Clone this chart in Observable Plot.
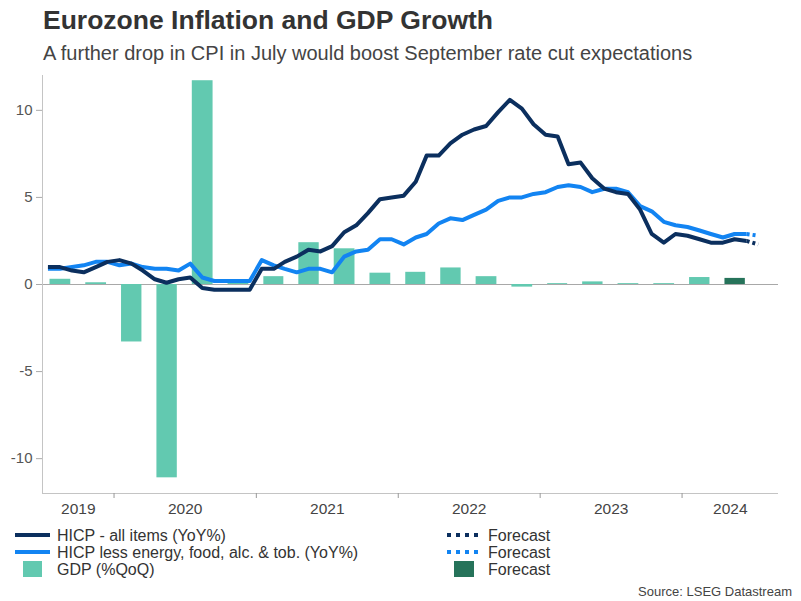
<!DOCTYPE html>
<html><head><meta charset="utf-8">
<script src="https://cdn.jsdelivr.net/npm/d3@7"></script>
<script src="https://cdn.jsdelivr.net/npm/@observablehq/plot@0.6"></script>
<style>
body{margin:0;background:#fff;font-family:"Liberation Sans",Arial,sans-serif;}
#wrap{position:relative;width:801px;height:601px;overflow:hidden;background:#fff;}
.title{position:absolute;left:43px;top:7px;font-size:26.5px;font-weight:bold;color:#333;line-height:26.5px;white-space:nowrap;}
.subtitle{position:absolute;left:43px;top:43px;font-size:20px;color:#444;line-height:20px;white-space:nowrap;}
#chart{position:absolute;left:0;top:65px;}
#legend{position:absolute;left:0;top:520px;}
</style></head>
<body><div id="wrap">
<div class="title">Eurozone Inflation and GDP Growth</div>
<div class="subtitle">A further drop in CPI in July would boost September rate cut expectations</div>
<div id="chart"></div>
<svg id="legend" width="801" height="81"></svg>
</div>
<script>
// ---- Data ----
const firstMonth = "2019-07"; // monthly series start (Jul 2019)
const hicpAll = [
  1.0, 1.0, 0.8, 0.7, 1.0, 1.3,
  1.4, 1.2, 0.8, 0.3, 0.1, 0.3, 0.4, -0.2, -0.3, -0.3, -0.3, -0.3,
  0.9, 0.9, 1.3, 1.6, 2.0, 1.9, 2.2, 3.0, 3.4, 4.1, 4.9, 5.0,
  5.1, 5.9, 7.4, 7.4, 8.1, 8.6, 8.9, 9.1, 9.9, 10.6, 10.1, 9.2,
  8.6, 8.5, 6.9, 7.0, 6.1, 5.5, 5.3, 5.2, 4.3, 2.9, 2.4, 2.9,
  2.8, 2.6, 2.4, 2.4, 2.6, 2.5
];
const hicpCore = [
  0.9, 0.9, 1.0, 1.1, 1.3, 1.3,
  1.1, 1.2, 1.0, 0.9, 0.9, 0.8, 1.2, 0.4, 0.2, 0.2, 0.2, 0.2,
  1.4, 1.1, 0.9, 0.7, 0.9, 0.9, 0.7, 1.6, 1.9, 2.0, 2.6, 2.6,
  2.3, 2.7, 2.9, 3.5, 3.8, 3.7, 4.0, 4.3, 4.8, 5.0, 5.0, 5.2,
  5.3, 5.6, 5.7, 5.6, 5.3, 5.5, 5.5, 5.3, 4.5, 4.2, 3.6, 3.4,
  3.3, 3.1, 2.9, 2.7, 2.9, 2.9
];
const hicpAllForecast = 2.3;   // Jul 2024
const hicpCoreForecast = 2.8;  // Jul 2024
const firstQuarter = "2019-07"; // Q3 2019
const gdpQoQ = [0.3, 0.1, -3.3, -11.1, 11.7, 0.1, 0.45, 2.4, 2.05, 0.65, 0.7, 0.95, 0.45, -0.15, 0.05, 0.15, 0.05, 0.05, 0.4];
const gdpForecast = 0.35; // Q2 2024
const yearLabels = ["2019", "2020", "2021", "2022", "2023", "2024"];
const yTicks = [-10, -5, 0, 5, 10];
const xDomain = ["2019-07-01", "2024-09-05"];
const yDomain = [-12, 12];

// ---- Colours ----
const cAll = "#0b2f5e", cCore = "#1284f2", cGdp = "#62c9b0", cGdpF = "#26735a";

// ---- Build tables ----
const pm = d3.utcParse("%Y-%m");
const m0 = pm(firstMonth);
const monthMid = i => d3.utcDay.offset(d3.utcMonth.offset(m0, i), 14);
const allData = hicpAll.map((v, i) => ({date: monthMid(i), value: v}));
const coreData = hicpCore.map((v, i) => ({date: monthMid(i), value: v}));
const nM = hicpAll.length;
const allFc = [allData[nM - 1], {date: monthMid(nM), value: hicpAllForecast}];
const coreFc = [coreData[nM - 1], {date: monthMid(nM), value: hicpCoreForecast}];
const q0 = pm(firstQuarter);
const gdpData = gdpQoQ.map((v, i) => ({x1: d3.utcMonth.offset(q0, 3 * i), x2: d3.utcMonth.offset(q0, 3 * i + 3), value: v}));
const nQ = gdpQoQ.length;
const gdpFc = [{x1: d3.utcMonth.offset(q0, 3 * nQ), x2: d3.utcMonth.offset(q0, 3 * nQ + 3), value: gdpForecast}];
const xd = xDomain.map(s => d3.utcParse("%Y-%m-%d")(s));
const yearTicks = yearLabels.slice(1).map(y => new Date(Date.UTC(+y, 0, 1)));
const yearMid = y => {
  const a = Math.max(+new Date(Date.UTC(+y, 0, 1)), +xd[0]);
  const b = Math.min(+new Date(Date.UTC(+y + 1, 0, 1)), +xd[1]);
  return new Date((a + b) / 2);
};

const chart = Plot.plot({
  width: 801, height: 455,
  marginLeft: 42, marginRight: 23, marginTop: 10, marginBottom: 27,
  x: {type: "utc", domain: xd, label: null},
  y: {domain: yDomain, label: null},
  style: {fontFamily: "Liberation Sans, Arial, sans-serif", background: "white"},
  marks: [
    Plot.ruleY([0], {stroke: "#a8a8a8", strokeWidth: 1}),
    Plot.rectY(gdpData, {x1: "x1", x2: "x2", y: "value", fill: cGdp, insetLeft: 7.5, insetRight: 7.5}),
    Plot.rectY(gdpFc, {x1: "x1", x2: "x2", y: "value", fill: cGdpF, insetLeft: 7.5, insetRight: 7.5}),
    Plot.ruleX([xd[0]], {stroke: "#c4c4c4"}),
    Plot.ruleY([yDomain[0]], {stroke: "#c4c4c4"}),
    Plot.axisY({ticks: yTicks, tickSize: 6, tickPadding: 4, fontSize: 15, fill: "#555", stroke: "#aaa", tickFormat: d => String(d), label: null}),
    Plot.axisX({ticks: yearTicks, tickSize: 5, tickFormat: () => "", stroke: "#999", label: null}),
    Plot.text(yearLabels, {x: yearMid, text: d => d, frameAnchor: "bottom", dy: 15.5, lineAnchor: "middle", fontSize: 15.5, fill: "#444"}),
    Plot.line(coreFc, {x: "date", y: "value", stroke: cCore, strokeWidth: 4, strokeDasharray: "3,3", strokeLinecap: "butt"}),
    Plot.line(allFc, {x: "date", y: "value", stroke: cAll, strokeWidth: 4, strokeDasharray: "3,3", strokeLinecap: "butt"}),
    Plot.line(coreData, {x: "date", y: "value", stroke: cCore, strokeWidth: 4, strokeLinejoin: "round", strokeLinecap: "butt"}),
    Plot.line(allData, {x: "date", y: "value", stroke: cAll, strokeWidth: 4, strokeLinejoin: "round", strokeLinecap: "butt"})
  ]
});
document.getElementById("chart").appendChild(chart);

// ---- Legend ----
const lg = d3.select("#legend").style("font-family", "Liberation Sans, Arial, sans-serif");
const rows = [15, 32, 49];
const addText = (x, y, t) => lg.append("text").attr("x", x).attr("y", y).attr("dominant-baseline", "central").attr("font-size", 16).attr("fill", "#333").text(t);
lg.append("line").attr("x1", 15).attr("x2", 50).attr("y1", rows[0]).attr("y2", rows[0]).attr("stroke", cAll).attr("stroke-width", 4);
addText(57, rows[0], "HICP - all items (YoY%)");
lg.append("line").attr("x1", 15).attr("x2", 50).attr("y1", rows[1]).attr("y2", rows[1]).attr("stroke", cCore).attr("stroke-width", 4);
addText(57, rows[1], "HICP less energy, food, alc. & tob. (YoY%)");
lg.append("rect").attr("x", 23).attr("y", rows[2] - 8).attr("width", 19).attr("height", 16).attr("fill", cGdp);
addText(57, rows[2], "GDP (%QoQ)");
lg.append("line").attr("x1", 447).attr("x2", 482).attr("y1", rows[0]).attr("y2", rows[0]).attr("stroke", cAll).attr("stroke-width", 4).attr("stroke-dasharray", "4,5");
addText(488, rows[0], "Forecast");
lg.append("line").attr("x1", 447).attr("x2", 482).attr("y1", rows[1]).attr("y2", rows[1]).attr("stroke", cCore).attr("stroke-width", 4).attr("stroke-dasharray", "4,5");
addText(488, rows[1], "Forecast");
lg.append("rect").attr("x", 454).attr("y", rows[2] - 8).attr("width", 20).attr("height", 16).attr("fill", cGdpF);
addText(488, rows[2], "Forecast");
lg.append("text").attr("x", 792).attr("y", 71).attr("dominant-baseline", "central").attr("text-anchor", "end").attr("font-size", 13).attr("fill", "#444").text("Source: LSEG Datastream");
</script>
</body></html>
